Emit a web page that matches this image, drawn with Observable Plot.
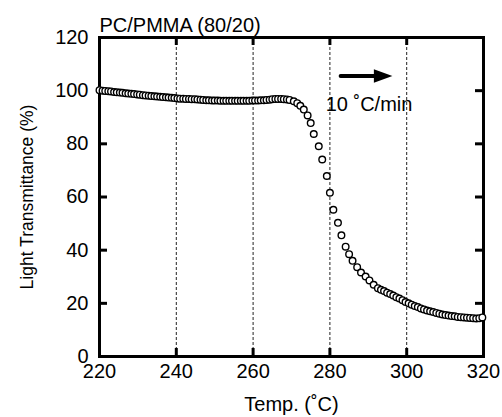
<!DOCTYPE html>
<html>
<head>
<meta charset="utf-8">
<script src="https://cdn.jsdelivr.net/npm/d3@7"></script>
<script src="https://cdn.jsdelivr.net/npm/@observablehq/plot@0.6"></script>
<style>
  html, body { margin: 0; padding: 0; background: #fff; }
</style>
</head>
<body>
<div id="chart"></div>
<script>
const title = "PC/PMMA (80/20)";
const xLabel = "Temp. (\u02DAC)";
const yLabel = "Light Transmittance (%)";
const rateLabel = "10 \u02DAC/min";

const xTicks = [220, 240, 260, 280, 300, 320];
const yTicks = [0, 20, 40, 60, 80, 100, 120];
const xGrid = [240, 260, 280, 300];

const temps = [
  220.0, 220.8, 221.5, 222.3, 223.0, 223.8, 224.5, 225.3, 226.0, 226.8,
  227.5, 228.3, 229.0, 229.8, 230.5, 231.3, 232.0, 232.8, 233.5, 234.3,
  235.0, 235.8, 236.5, 237.3, 238.0, 238.8, 239.5, 240.3, 241.0, 241.8,
  242.5, 243.3, 244.0, 244.8, 245.5, 246.3, 247.0, 247.8, 248.5, 249.3,
  250.0, 250.8, 251.5, 252.3, 253.0, 253.8, 254.5, 255.3, 256.0, 256.8,
  257.5, 258.3, 259.0, 259.8, 260.5, 261.3, 262.0, 262.8, 263.5, 264.3,
  265.0, 265.8, 266.5, 267.3, 268.0, 268.8, 269.5,
  270.6, 271.5, 272.3, 273.2, 274.2, 275.0, 275.8, 277.1, 278.0, 279.2,
  280.0, 280.9, 282.1, 283.0, 284.1, 285.0, 285.9, 287.1, 288.1, 289.3,
  290.3, 291.4,
  292.5, 293.3, 294.1, 294.9, 295.7, 296.5, 297.3, 298.1, 298.9, 299.7,
  300.5, 301.3, 302.1, 302.9, 303.7, 304.5, 305.3, 306.1, 306.9, 307.7,
  308.5, 309.3, 310.1, 310.9, 311.7, 312.5, 313.3, 314.1, 314.9, 315.7,
  316.5, 317.3, 318.1, 318.9, 319.7
];
const transmittance = [
  100.2, 100.0, 99.9, 99.8, 99.7, 99.5, 99.4, 99.3, 99.2, 99.0,
  98.9, 98.8, 98.7, 98.6, 98.5, 98.3, 98.2, 98.1, 98.0, 97.9,
  97.8, 97.7, 97.6, 97.5, 97.4, 97.3, 97.2, 97.1, 97.0, 97.0,
  96.9, 96.9, 96.8, 96.8, 96.7, 96.6, 96.5, 96.4, 96.4, 96.3,
  96.3, 96.3, 96.2, 96.2, 96.2, 96.2, 96.2, 96.2, 96.2, 96.2,
  96.2, 96.2, 96.2, 96.3, 96.3, 96.3, 96.4, 96.4, 96.5, 96.6,
  96.8, 96.9, 96.9, 96.9, 96.8, 96.7, 96.5,
  96.0, 95.3, 94.3, 92.9, 90.7, 87.8, 83.7, 79.1, 74.1, 67.9,
  61.6, 55.2, 50.3, 45.6, 41.3, 38.5, 36.0, 33.6, 31.6, 30.1,
  28.6, 27.0,
  25.7, 25.1, 24.6, 24.0, 23.5, 22.9, 22.3, 21.8, 21.2, 20.5,
  20.0, 19.5, 19.0, 18.6, 18.1, 17.7, 17.3, 17.0, 16.7, 16.4,
  16.1, 15.8, 15.6, 15.4, 15.2, 15.1, 14.9, 14.8, 14.7, 14.6,
  14.5, 14.4, 14.3, 14.4, 14.7
];

const data = temps.map((t, i) => ({t, v: transmittance[i]}));

// filled arrowhead symbol
const arrowHead = {
  draw(ctx) {
    ctx.moveTo(9.5, 0);
    ctx.lineTo(-9, -6.8);
    ctx.lineTo(-9, 6.8);
    ctx.closePath();
  }
};

const W = 502, H = 417;
const mL = 99, mR = 19, mT = 37, mB = 61;
const frameW = W - mL - mR, frameH = H - mT - mB;
const tickLen = 8;
const font = 20;

const chart = Plot.plot({
  width: W,
  height: H,
  marginLeft: mL,
  marginRight: mR,
  marginTop: mT,
  marginBottom: mB,
  style: {fontFamily: "'Liberation Sans', Arial, Helvetica, sans-serif", background: "#fff", color: "#000"},
  x: {domain: [220, 320]},
  y: {domain: [0, 120]},
  marks: [
    Plot.ruleX(xGrid, {stroke: "#222", strokeWidth: 1, strokeDasharray: "3,2"}),
    Plot.axisX({ticks: xTicks, tickSize: 0, tickPadding: 7, fontSize: font, label: null}),
    Plot.axisY({ticks: yTicks, tickSize: 0, tickPadding: 11, fontSize: font, label: null}),
    // inward tick marks on all four sides
    Plot.tickX(xGrid, {x: d => d, insetTop: frameH - tickLen, stroke: "#000", strokeWidth: 3}),
    Plot.tickX(xGrid, {x: d => d, insetBottom: frameH - tickLen, stroke: "#000", strokeWidth: 3}),
    Plot.tickY(yTicks.slice(1, -1), {y: d => d, insetRight: frameW - tickLen, stroke: "#000", strokeWidth: 3}),
    Plot.tickY(yTicks.slice(1, -1), {y: d => d, insetLeft: frameW - tickLen, stroke: "#000", strokeWidth: 3}),
    Plot.frame({stroke: "#000", strokeWidth: 3}),
    // data
    Plot.dot(data, {x: "t", y: "v", r: 3.3, fill: "#fff", stroke: "#000", strokeWidth: 1.4}),
    // heating-rate arrow and label
    Plot.line([{t: 282.8, v: 105.5}, {t: 292.2, v: 105.5}], {x: "t", y: "v", stroke: "#000", strokeWidth: 4}),
    Plot.dot([{t: 293.8, v: 105.5}], {x: "t", y: "v", r: 5, symbol: arrowHead, fill: "#000", stroke: "none"}),
    Plot.text([rateLabel], {x: 278.9, y: 94.7, text: d => d, textAnchor: "start", fontSize: font, fill: "#000"}),
    // title and axis labels
    Plot.text([title], {frameAnchor: "top-left", text: d => d, textAnchor: "start", lineAnchor: "middle", dy: -11.7, dx: 0, fontSize: font, fill: "#000"}),
    Plot.text([xLabel], {frameAnchor: "bottom", text: d => d, lineAnchor: "middle", dy: 47.6, fontSize: font, fill: "#000"}),
    Plot.text([yLabel], {frameAnchor: "left", text: d => d, rotate: -90, textAnchor: "middle", lineAnchor: "middle", dx: -72, fontSize: 17.5, fill: "#000"})
  ]
});

document.getElementById("chart").appendChild(chart);
</script>
</body>
</html>
